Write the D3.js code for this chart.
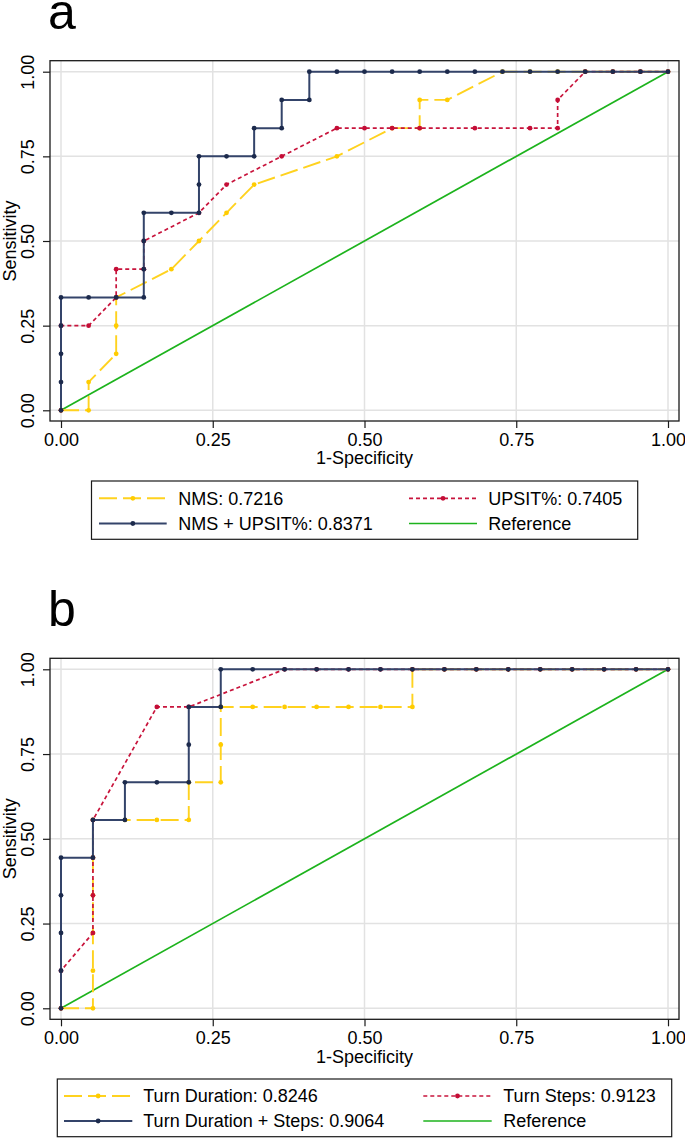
<!DOCTYPE html>
<html><head><meta charset="utf-8">
<script src="https://cdn.jsdelivr.net/npm/d3@7"></script>
<style>
html,body{margin:0;padding:0;background:#fff;}
svg{display:block;font-family:"Liberation Sans",Arial,Helvetica,sans-serif;}
</style></head>
<body>
<script>
// ---------- DATA ----------
const tickValues = [0, 0.25, 0.5, 0.75, 1];
const tickLabels = ["0.00", "0.25", "0.50", "0.75", "1.00"];
const xTitle = "1-Specificity";
const yTitle = "Sensitivity";

// Panel a
const aNmsX   = [0, .0455, .0455, .0909, .0909, .0909, .1818, .2273, .2727, .3182, .4545, .5455, .5909, .5909, .6364, .7273, .7727, .8182, .8636, .9091, .9545, 1];
const aNmsY   = [0, 0, .0833, .1667, .25, .3333, .4167, .5, .5833, .6667, .75, .8333, .8333, .9167, .9167, 1, 1, 1, 1, 1, 1, 1];
const aUpsX   = [0, 0, .0455, .0909, .0909, .1364, .1364, .2273, .2727, .3636, .4545, .5, .5455, .5909, .6818, .7727, .8182, .8182, .8636, .9091, .9545, 1];
const aUpsY   = [0, .25, .25, .3333, .4167, .4167, .5, .5833, .6667, .75, .8333, .8333, .8333, .8333, .8333, .8333, .8333, .9167, 1, 1, 1, 1];
const aCombX  = [0, 0, 0, 0, 0, .0455, .0909, .1364, .1364, .1364, .1364, .1818, .2273, .2273, .2273, .2727, .3182, .3182, .3636, .3636, .4091, .4091, .4545, .5, .5455, .5909, .6364, .6818, .7273, .7727, .8182, .8636, .9091, .9545, 1];
const aCombY  = [0, .0833, .1667, .25, .3333, .3333, .3333, .3333, .4167, .5, .5833, .5833, .5833, .6667, .75, .75, .75, .8333, .8333, .9167, .9167, 1, 1, 1, 1, 1, 1, 1, 1, 1, 1, 1, 1, 1, 1];
const aLabels = ["NMS: 0.7216", "UPSIT%: 0.7405", "NMS + UPSIT%: 0.8371", "Reference"];

// Panel b
const bDurX   = [0, .0526, .0526, .0526, .0526, .0526, .0526, .1053, .1579, .2105, .2105, .2632, .2632, .2632, .3158, .3684, .4211, .4737, .5263, .5789, .5789, .6316, .6842, .7368, .7895, .8421, .8947, .9474, 1];
const bDurY   = [0, 0, .1111, .2222, .3333, .4444, .5556, .5556, .5556, .5556, .6667, .6667, .7778, .8889, .8889, .8889, .8889, .8889, .8889, .8889, 1, 1, 1, 1, 1, 1, 1, 1, 1];
const bStepX  = [0, 0, .0526, .0526, .0526, .0526, .1579, .2105, .3684, .4211, .4737, .5263, .5789, .6316, .6842, .7368, .7895, .8421, .8947, .9474, 1];
const bStepY  = [0, .1111, .2222, .3333, .4444, .5556, .8889, .8889, 1, 1, 1, 1, 1, 1, 1, 1, 1, 1, 1, 1, 1];
const bCombX  = [0, 0, 0, 0, 0, .0526, .0526, .1053, .1053, .1579, .2105, .2105, .2105, .2632, .2632, .3158, .3684, .4211, .4737, .5263, .5789, .6316, .6842, .7368, .7895, .8421, .8947, .9474, 1];
const bCombY  = [0, .1111, .2222, .3333, .4444, .4444, .5556, .5556, .6667, .6667, .6667, .7778, .8889, .8889, 1, 1, 1, 1, 1, 1, 1, 1, 1, 1, 1, 1, 1, 1, 1];
const bLabels = ["Turn Duration: 0.8246", "Turn Steps: 0.9123", "Turn Duration + Steps: 0.9064", "Reference"];

const refX = [0, 1];
const refY = [0, 1];

// ---------- STYLE ----------
const W = 685, H = 1138;
const FONT = 18;
const C = {
  yellow: "#ffd21f", yellowDot: "#ffcc00",
  red: "#c8143c", redDot: "#c40d36",
  navy: "#34446a", navyDot: "#1c2a4c",
  green: "#1db31d",
  grid: "#e2e2e2", frame: "#1a1a1a"
};
const series = {
  yellow: {stroke: C.yellow, dot: C.yellowDot, dash: "18,6", width: 1.9},
  red:    {stroke: C.red, dot: C.redDot, dash: "4,3", width: 1.7},
  navy:   {stroke: C.navy, dot: C.navyDot, dash: null, width: 2},
  green:  {stroke: C.green, dot: null, dash: null, width: 1.7}
};

const svg = d3.select("body").append("svg").attr("width", W).attr("height", H);

function zip(xs, ys) { return xs.map((x, i) => ({x, y: ys[i]})); }

function panel(cfg) {
  const g = svg.append("g");
  const x = d3.scaleLinear().domain([0, 1]).range([61, 668]);
  const y = d3.scaleLinear().domain([0, 1]).range([cfg.y0, cfg.y1]);
  const fr = cfg.frame;

  // panel letter
  g.append("text").attr("x", 48).attr("y", cfg.letterY).attr("font-size", 50).text(cfg.letter);

  // gridlines
  g.selectAll(".gx").data(tickValues).enter().append("line")
    .attr("x1", d => x(d)).attr("x2", d => x(d)).attr("y1", fr.t).attr("y2", fr.b)
    .attr("stroke", C.grid).attr("stroke-width", 1.5);
  g.selectAll(".gy").data(tickValues).enter().append("line")
    .attr("y1", d => y(d)).attr("y2", d => y(d)).attr("x1", fr.l).attr("x2", fr.r)
    .attr("stroke", C.grid).attr("stroke-width", 1.5);

  // axes
  const xAxis = d3.axisBottom(x).tickValues(tickValues).tickFormat((d, i) => tickLabels[i]).tickSize(7).tickPadding(5);
  const xa = g.append("g").attr("transform", `translate(0,${fr.b})`).call(xAxis);
  xa.select(".domain").remove();
  xa.selectAll("line").attr("stroke", C.frame).attr("stroke-width", 1.2);
  xa.selectAll("text").attr("font-size", FONT).attr("fill", "#000").attr("font-family", "Liberation Sans, Arial, sans-serif");

  const yAxis = d3.axisLeft(y).tickValues(tickValues).tickFormat((d, i) => tickLabels[i]).tickSize(7).tickPadding(0);
  const ya = g.append("g").attr("transform", `translate(${fr.l},0)`).call(yAxis);
  ya.select(".domain").remove();
  ya.selectAll("line").attr("stroke", C.frame).attr("stroke-width", 1.2);
  ya.selectAll("text").attr("font-size", FONT).attr("fill", "#000")
    .attr("font-family", "Liberation Sans, Arial, sans-serif")
    .attr("text-anchor", "middle").attr("dy", null).attr("x", null)
    .attr("transform", `translate(${33.5 - fr.l},0) rotate(-90)`);

  // axis titles
  g.append("text").attr("x", (x(0) + x(1)) / 2).attr("y", cfg.xTitleY).attr("text-anchor", "middle")
    .attr("font-size", FONT).text(xTitle);
  g.append("text").attr("transform", `translate(15.5,${(y(0) + y(1)) / 2}) rotate(-90)`).attr("text-anchor", "middle")
    .attr("font-size", FONT).text(yTitle);

  // curves
  const line = d3.line().x(d => x(d.x)).y(d => y(d.y));
  cfg.curves.forEach(c => {
    const s = series[c.key];
    const data = zip(c.xs, c.ys);
    g.append("path").datum(data).attr("d", line).attr("fill", "none")
      .attr("stroke", s.stroke).attr("stroke-width", s.width)
      .attr("stroke-dasharray", s.dash).attr("stroke-linejoin", "miter");
    if (s.dot) {
      g.selectAll(null).data(data).enter().append("circle")
        .attr("cx", d => x(d.x)).attr("cy", d => y(d.y)).attr("r", 2.4).attr("fill", s.dot);
    }
  });

  // frame
  g.append("rect").attr("x", fr.l).attr("y", fr.t).attr("width", fr.r - fr.l).attr("height", fr.b - fr.t)
    .attr("fill", "none").attr("stroke", C.frame).attr("stroke-width", 1.3);

  // legend
  const L = cfg.legend;
  g.append("rect").attr("x", L.l).attr("y", L.t).attr("width", L.r - L.l).attr("height", L.b - L.t)
    .attr("fill", "#fff").attr("stroke", C.frame).attr("stroke-width", 1.2);
  const items = [
    {key: "yellow", col: 0, row: 0, label: cfg.labels[0]},
    {key: "red", col: 1, row: 0, label: cfg.labels[1]},
    {key: "navy", col: 0, row: 1, label: cfg.labels[2]},
    {key: "green", col: 1, row: 1, label: cfg.labels[3]}
  ];
  items.forEach(it => {
    const s = series[it.key];
    const c = L.cols[it.col];
    const cy = L.rows[it.row];
    g.append("line").attr("x1", c.x1).attr("x2", c.x2).attr("y1", cy).attr("y2", cy)
      .attr("stroke", s.stroke).attr("stroke-width", s.width).attr("stroke-dasharray", s.dash);
    if (s.dot) g.append("circle").attr("cx", (c.x1 + c.x2) / 2).attr("cy", cy).attr("r", 2.4).attr("fill", s.dot);
    g.append("text").attr("x", c.tx).attr("y", cy + 6.4).attr("font-size", FONT).text(it.label);
  });
}

panel({
  letter: "a", letterY: 28.5,
  y0: 410.3, y1: 71.7,
  frame: {l: 50, r: 679, t: 60.7, b: 421},
  xTitleY: 464,
  labels: aLabels,
  curves: [
    {key: "green", xs: refX, ys: refY},
    {key: "yellow", xs: aNmsX, ys: aNmsY},
    {key: "red", xs: aUpsX, ys: aUpsY},
    {key: "navy", xs: aCombX, ys: aCombY}
  ],
  legend: {l: 91.5, r: 637.7, t: 481, b: 539.3, rows: [498.3, 523.5],
    cols: [{x1: 99, x2: 166.7, tx: 178.3}, {x1: 409, x2: 477, tx: 488.3}]}
});

panel({
  letter: "b", letterY: 625.5,
  y0: 1008.3, y1: 669.3,
  frame: {l: 50, r: 679, t: 658.3, b: 1019.3},
  xTitleY: 1062.5,
  labels: bLabels,
  curves: [
    {key: "green", xs: refX, ys: refY},
    {key: "yellow", xs: bDurX, ys: bDurY},
    {key: "red", xs: bStepX, ys: bStepY},
    {key: "navy", xs: bCombX, ys: bCombY}
  ],
  legend: {l: 57.3, r: 671.7, t: 1079, b: 1136.7, rows: [1096, 1121],
    cols: [{x1: 64, x2: 132.3, tx: 143.3}, {x1: 423.3, x2: 491.7, tx: 503.3}]}
});
</script>
</body></html>
